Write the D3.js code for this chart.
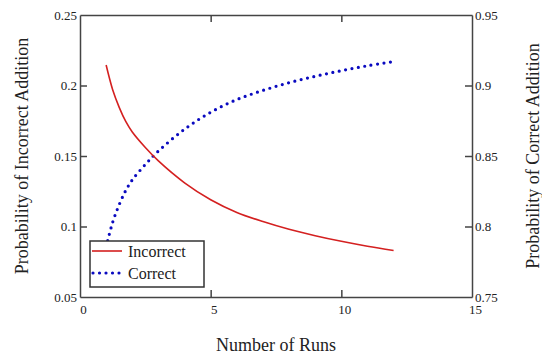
<!DOCTYPE html>
<html>
<head>
<meta charset="utf-8">
<script src="https://cdn.jsdelivr.net/npm/d3@7"></script>
<style>
  body { margin: 0; background: #fff; }
  svg text { font-family: 'Liberation Serif', 'Times New Roman', Tinos, 'DejaVu Serif', serif; fill: #222; }
  .axis path, .axis line { stroke: #444; stroke-width: 1.5; }
</style>
</head>
<body>
<div id="chart"></div>
<script>
// runs on the x axis
var runs = [1, 1.25, 1.5, 1.75, 2, 2.5, 3, 4, 5, 6, 7, 8, 9, 10, 11, 12];
// probability of incorrect addition (left axis)
var incorrect = [0.2145, 0.197, 0.1845, 0.1745, 0.167, 0.156, 0.1465, 0.131, 0.119, 0.110, 0.1035, 0.098, 0.0935, 0.0895, 0.086, 0.083];
// probability of correct addition (right axis)
var correct = [0.7855, 0.803, 0.8155, 0.8255, 0.833, 0.844, 0.8535, 0.869, 0.881, 0.890, 0.8965, 0.902, 0.9065, 0.9105, 0.914, 0.917];

var xTicks = [0, 5, 10, 15],
    leftTicks = [0.05, 0.1, 0.15, 0.2, 0.25],
    rightTicks = [0.75, 0.8, 0.85, 0.9, 0.95];

var W = 542, H = 356;
var margin = {top: 15, right: 70, bottom: 59, left: 80};
var width = W - margin.left - margin.right,
    height = H - margin.top - margin.bottom;

var serif = "'Liberation Serif', 'Times New Roman', Tinos, 'DejaVu Serif', serif";

var svg = d3.select("#chart").append("svg")
    .attr("width", W)
    .attr("height", H)
    .attr("font-family", serif);

var g = svg.append("g")
    .attr("transform", "translate(" + margin.left + "," + margin.top + ")");

// scales
var x = d3.scaleLinear().domain([0, 15]).range([0, width]),
    yL = d3.scaleLinear().domain([0.05, 0.25]).range([height, 0]),
    yR = d3.scaleLinear().domain([0.75, 0.95]).range([height, 0]);

// axes, ticks point inward
g.append("g").attr("class", "axis")
  .attr("transform", "translate(0," + height + ")")
  .call(d3.axisBottom(x).tickValues(xTicks).tickSizeInner(-7).tickSizeOuter(0).tickPadding(8).tickFormat(d3.format("d")))
  .attr("font-family", serif)
  .selectAll("text").attr("dx", 3).style("font-size", "13px");

g.append("g").attr("class", "axis")
  .call(d3.axisTop(x).tickValues([5, 10]).tickSizeInner(-7).tickSizeOuter(0).tickFormat(""));

g.append("g").attr("class", "axis")
  .call(d3.axisLeft(yL).tickValues(leftTicks).tickSizeInner(-7).tickSizeOuter(0).tickPadding(3).tickFormat(String))
  .attr("font-family", serif)
  .selectAll("text").style("font-size", "13px");

g.append("g").attr("class", "axis")
  .attr("transform", "translate(" + width + ",0)")
  .call(d3.axisRight(yR).tickValues(rightTicks).tickSizeInner(-7).tickSizeOuter(0).tickPadding(3).tickFormat(String))
  .attr("font-family", serif)
  .selectAll("text").style("font-size", "13px");

// hide ticks sitting on the corners
g.selectAll(".axis .tick line").filter(function(d) {
  return d === 0.05 || d === 0.25 || d === 0.75 || d === 0.95 || d === 0 || d === 15;
}).remove();

// lines
var lineL = d3.line()
  .x(function(d, i) { return x(runs[i]); })
  .y(function(d) { return yL(d); })
  .curve(d3.curveCatmullRom);

var lineR = d3.line()
  .x(function(d, i) { return x(runs[i]); })
  .y(function(d) { return yR(d); })
  .curve(d3.curveCatmullRom);

g.append("path")
  .datum(correct)
  .attr("d", lineR)
  .attr("fill", "none")
  .attr("stroke", "#0a0ac0")
  .attr("stroke-width", 3.2)
  .attr("stroke-linecap", "round")
  .attr("stroke-dasharray", "0 6.5");

g.append("path")
  .datum(incorrect)
  .attr("d", lineL)
  .attr("fill", "none")
  .attr("stroke", "#d42020")
  .attr("stroke-width", 1.6);

// legend
var legend = svg.append("g").attr("transform", "translate(90,241)");
legend.append("rect")
  .attr("width", 114).attr("height", 46)
  .attr("fill", "#fff").attr("stroke", "#333").attr("stroke-width", 1.5);
legend.append("line")
  .attr("x1", 2).attr("x2", 32).attr("y1", 10).attr("y2", 10)
  .attr("stroke", "#d42020").attr("stroke-width", 1.6);
legend.append("line")
  .attr("x1", 3).attr("x2", 32).attr("y1", 32).attr("y2", 32)
  .attr("stroke", "#0a0ac0").attr("stroke-width", 3.2)
  .attr("stroke-linecap", "round").attr("stroke-dasharray", "0 6.5");
legend.append("text").attr("x", 38).attr("y", 16).style("font-size", "16px").text("Incorrect");
legend.append("text").attr("x", 38).attr("y", 38).style("font-size", "16px").text("Correct");

// axis titles
svg.append("text")
  .attr("x", margin.left + width / 2).attr("y", 351)
  .attr("text-anchor", "middle").style("font-size", "18px")
  .text("Number of Runs");

svg.append("text")
  .attr("transform", "translate(28," + (margin.top + height / 2) + ") rotate(-90)")
  .attr("text-anchor", "middle").style("font-size", "18px")
  .text("Probability of Incorrect Addition");

svg.append("text")
  .attr("transform", "translate(539," + (margin.top + height / 2) + ") rotate(-90)")
  .attr("text-anchor", "middle").style("font-size", "18px")
  .text("Probability of Correct Addition");
</script>
</body>
</html>
